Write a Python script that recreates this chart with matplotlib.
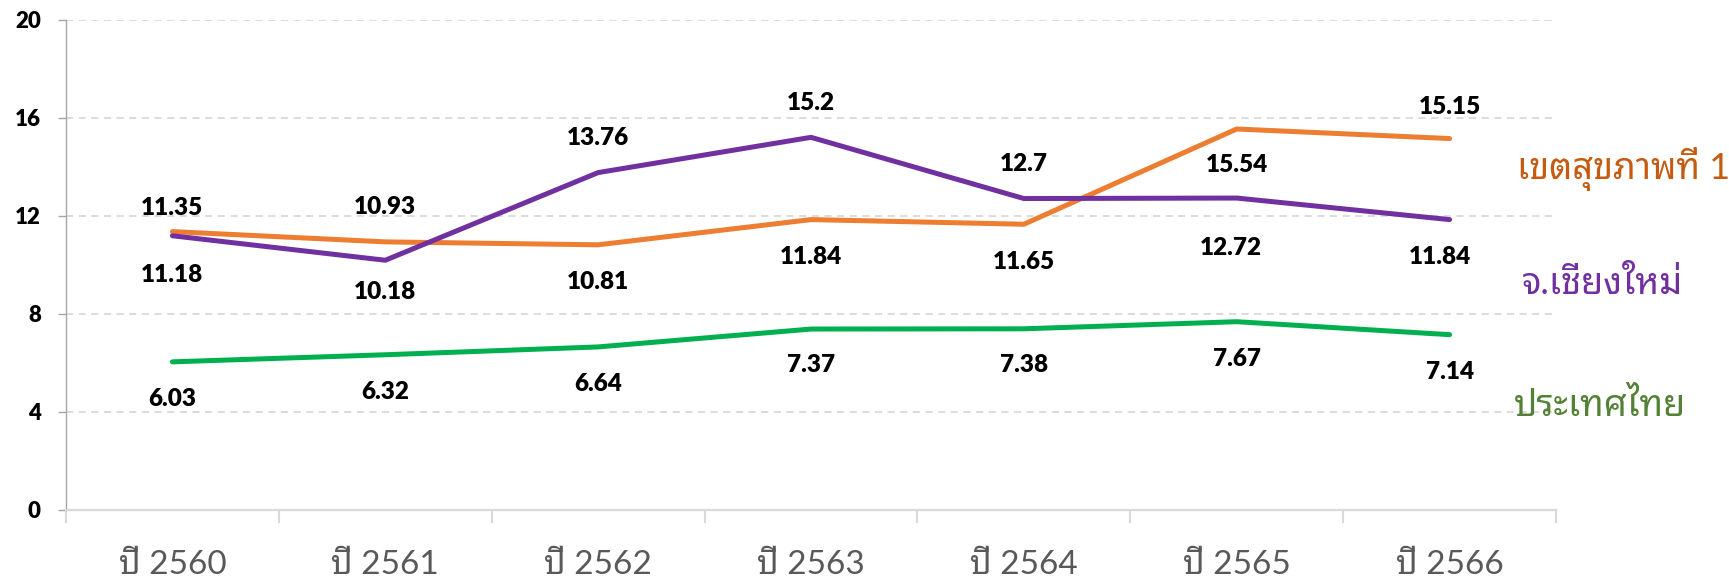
import matplotlib
matplotlib.use("Agg")
import matplotlib.pyplot as plt
from matplotlib import font_manager
from matplotlib.ft2font import FT2Font
from matplotlib.ticker import FixedLocator, NullFormatter

years = ["ปี 2560", "ปี 2561", "ปี 2562", "ปี 2563", "ปี 2564", "ปี 2565", "ปี 2566"]
region1 = [11.35, 10.93, 10.81, 11.84, 11.65, 15.54, 15.15]
chiangmai = [11.18, 10.18, 13.76, 15.2, 12.7, 12.72, 11.84]
thailand = [6.03, 6.32, 6.64, 7.37, 7.38, 7.67, 7.14]
series_names = ["เขตสุขภาพที่ 1", "จ.เชียงใหม่", "ประเทศไทย"]


# pick an installed font that has Thai glyphs, looped style first
thai_found = set()
for f in font_manager.fontManager.ttflist:
    try:
        if 0x0E1B in FT2Font(f.fname).get_charmap():
            thai_found.add(f.name)
    except Exception:
        pass
prefs = ["Noto Sans Thai Looped", "Loma", "IBM Plex Sans Thai Looped", "Sarabun",
         "Noto Sans Thai", "Garuda", "Kanit"]
thai_font = next((p for p in prefs if p in thai_found), sorted(thai_found)[0] if thai_found else "DejaVu Sans")
plt.rcParams["font.family"] = ["Lato", thai_font, "DejaVu Sans"]

# label offsets in points (up is positive), x shifts for a couple of labels
off_r1 = [17, 25, -27, -27, -27, -26, 23]
off_cm = [-28, -23, 25, 25, 25, -36, -27]
off_th = [-27, -27, -27, -26, -26, -27, -27]
dx_cm = [0, 0, 0, 0, 0, -4, -7]
dx_0 = [0] * 7

fig = plt.figure(figsize=(17.29, 5.84), dpi=100)
ax = fig.add_axes([66 / 1729, 1 - 509.5 / 584, (1556 - 66) / 1729, (509.5 - 19.8) / 584])

x = list(range(len(years)))
lines = [(region1, "#ED7D31", off_r1, dx_0), (chiangmai, "#7030A0", off_cm, dx_cm),
         (thailand, "#00B050", off_th, dx_0)]
for vals, col, offs, dxs in lines:
    ax.plot(x, vals, color=col, lw=3.6, solid_capstyle="round", solid_joinstyle="round", zorder=3)
    for xi, v, o, d in zip(x, vals, offs, dxs):
        ax.annotate(f"{v:g}", (xi, v), xytext=(d, o), textcoords="offset points",
                    ha="center", va="center", fontsize=17.5, fontweight="heavy", color="black")

ax.set_xlim(-0.5, 6.5)
ax.set_ylim(0, 20)
ax.set_yticks([0, 4, 8, 12, 16, 20])
ax.grid(axis="y", color="#D9D9D9", lw=1.3, linestyle=(0, (4, 3)))
ax.set_axisbelow(True)

ax.set_xticks(x)
ax.set_xticklabels(years, fontsize=24, color="#595959")
ax.xaxis.set_minor_locator(FixedLocator([i - 0.5 for i in range(8)]))
ax.xaxis.set_minor_formatter(NullFormatter())
ax.tick_params(axis="x", which="major", length=0, pad=29)
ax.tick_params(axis="x", which="minor", length=9, width=1.5, color="#D9D9D9")
ax.tick_params(axis="y", length=6, width=1, color="#A6A6A6", pad=12, labelsize=16)
for lbl in ax.get_yticklabels():
    lbl.set_fontweight("heavy")

for s in ["top", "right"]:
    ax.spines[s].set_visible(False)
ax.spines["left"].set_color("#A6A6A6")
ax.spines["left"].set_linewidth(1)
ax.spines["bottom"].set_color("#D9D9D9")
ax.spines["bottom"].set_linewidth(1.6)

# series names on the right
name_pos = [(6.317, 13.9, "#C55A11"), (6.34, 9.25, "#7030A0"), (6.30, 4.27, "#538135")]
for name, (nx, ny, col) in zip(series_names, name_pos):
    ax.text(nx, ny, name, color=col, fontsize=26, ha="left", va="center", clip_on=False)

fig.savefig("out.png", dpi=100)
